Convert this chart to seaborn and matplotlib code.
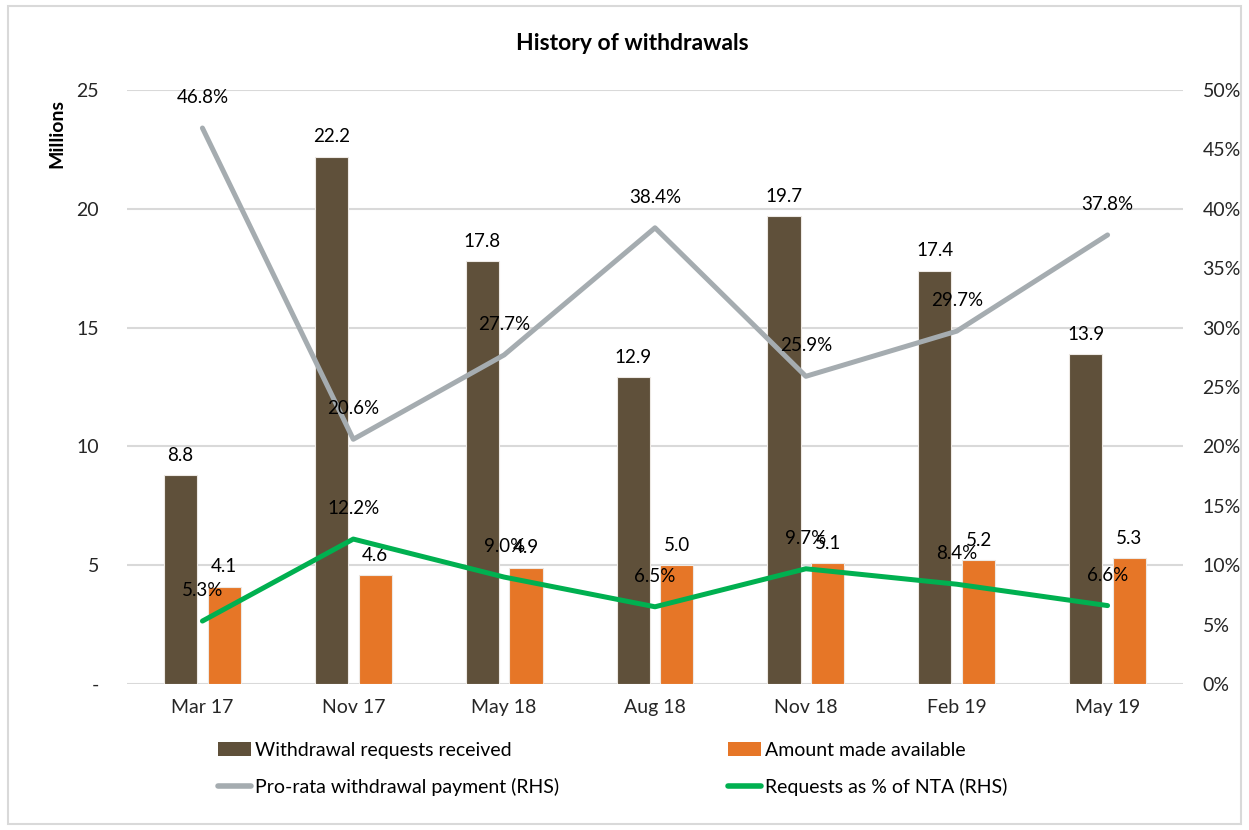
import matplotlib
matplotlib.use("Agg")
import matplotlib.pyplot as plt
import matplotlib.patches as mpatches
import matplotlib.lines as mlines
from matplotlib.ticker import FuncFormatter, MultipleLocator
import numpy as np
import pandas as pd
import seaborn as sns

# --- data -------------------------------------------------------------
periods = ["Mar 17", "Nov 17", "May 18", "Aug 18", "Nov 18", "Feb 19", "May 19"]
requests_received = [8.8, 22.2, 17.8, 12.9, 19.7, 17.4, 13.9]      # millions
amount_available = [4.1, 4.6, 4.9, 5.0, 5.1, 5.2, 5.3]             # millions
pro_rata_payment = [46.8, 20.6, 27.7, 38.4, 25.9, 29.7, 37.8]      # % (RHS)
requests_pct_nta = [5.3, 12.2, 9.0, 6.5, 9.7, 8.4, 6.6]            # % (RHS)

bar_series = ["Withdrawal requests received", "Amount made available"]
line_series = ["Pro-rata withdrawal payment (RHS)", "Requests as % of NTA (RHS)"]

# --- styling ----------------------------------------------------------
BROWN = "#5F503A"
ORANGE = "#E67627"
GREY = "#A5ACB0"
GREEN = "#00B050"
GRID = "#D9D9D9"
FONT = "Lato"

sns.set_theme(style="white")
plt.rcParams["font.family"] = [FONT, "DejaVu Sans"]
plt.rcParams["text.color"] = "black"

bars_df = pd.DataFrame({
    "period": periods * 2,
    "value": requests_received + amount_available,
    "series": [bar_series[0]] * len(periods) + [bar_series[1]] * len(periods),
})
lines_df = pd.DataFrame({
    "pos": list(range(len(periods))) * 2,
    "pct": [v / 100 for v in pro_rata_payment + requests_pct_nta],
    "series": [line_series[0]] * len(periods) + [line_series[1]] * len(periods),
})

fig = plt.figure(figsize=(12.49, 8.30), dpi=100)
ax = fig.add_axes([127 / 1249, 1 - 684 / 830, (1183 - 127) / 1249, (684 - 90) / 830])

sns.barplot(data=bars_df, x="period", y="value", hue="series", order=periods,
            hue_order=bar_series, palette=[BROWN, ORANGE], saturation=1,
            width=0.58, gap=0.24, edgecolor="#EDE9E4", linewidth=0.8,
            legend=False, ax=ax, zorder=2)

ax.set_ylim(0, 25)
ax.set_xlim(-0.5, len(periods) - 0.5)
ax.yaxis.set_major_locator(MultipleLocator(5))
ax.yaxis.set_major_formatter(FuncFormatter(lambda v, _: "-" if v == 0 else f"{v:.0f}"))
ax.grid(axis="y", color=GRID, linewidth=1.5, zorder=0)
ax.set_axisbelow(True)
for s in ax.spines.values():
    s.set_visible(False)
ax.set_xlabel("")
ax.set_ylabel("")
ax.tick_params(axis="y", length=0, pad=20, labelsize=14)
ax.tick_params(axis="x", length=0, pad=11, labelsize=14)

for cont in ax.containers:
    ax.bar_label(cont, fmt="%.1f", padding=8, fontsize=13.5)

# --- right-hand axis lines --------------------------------------------
ax2 = ax.twinx()
sns.lineplot(data=lines_df, x="pos", y="pct", hue="series", hue_order=line_series,
             palette=[GREY, GREEN], linewidth=3.6, legend=False, ax=ax2,
             sort=False, estimator=None)
ax2.set_ylim(0, 0.5)
ax2.set_xlim(-0.5, len(periods) - 0.5)
ax2.yaxis.set_major_locator(MultipleLocator(0.05))
ax2.yaxis.set_major_formatter(FuncFormatter(lambda v, _: f"{v * 100:.0f}%"))
ax2.tick_params(axis="y", length=0, pad=14, labelsize=14)
ax2.set_ylabel("")
ax2.set_xlabel("")
for s in ax2.spines.values():
    s.set_visible(False)

for vals in (pro_rata_payment, requests_pct_nta):
    for i, v in enumerate(vals):
        ax2.annotate(f"{v:.1f}%", (i, v / 100), xytext=(0, 22),
                     textcoords="offset points", ha="center", va="center",
                     fontsize=13.5)

# --- titles -----------------------------------------------------------
fig.text(632 / 1249, 1 - 44 / 830, "History of withdrawals", ha="center",
         va="center", fontsize=16.5, fontweight="bold")
fig.text(57 / 1249, 1 - 133 / 830, "Millions", ha="center", va="center",
         rotation=90, fontsize=14, fontweight="bold")

# --- legend (two columns) ---------------------------------------------
h_bar1 = mpatches.Patch(facecolor=BROWN, edgecolor="none", label=bar_series[0])
h_bar2 = mpatches.Patch(facecolor=ORANGE, edgecolor="none", label=bar_series[1])
h_ln1 = mlines.Line2D([], [], color=GREY, linewidth=4, label=line_series[0])
h_ln2 = mlines.Line2D([], [], color=GREEN, linewidth=4, label=line_series[1])

leg_kw = dict(frameon=False, fontsize=14, handlelength=1.7, handletextpad=0.2,
              labelspacing=0.95, borderaxespad=0, borderpad=0, loc="upper left")
fig.legend(handles=[h_bar1, h_ln1], bbox_to_anchor=(218 / 1249, 1 - 742 / 830), **leg_kw)
fig.legend(handles=[h_bar2, h_ln2], bbox_to_anchor=(728 / 1249, 1 - 742 / 830), **leg_kw)

# outer frame
fig.add_artist(mpatches.Rectangle((8 / 1249, 6 / 830), 1233 / 1249, 818 / 830,
                                  transform=fig.transFigure, fill=False,
                                  edgecolor="#D9D9D9", linewidth=1.5))

fig.savefig("out.png", dpi=100)
